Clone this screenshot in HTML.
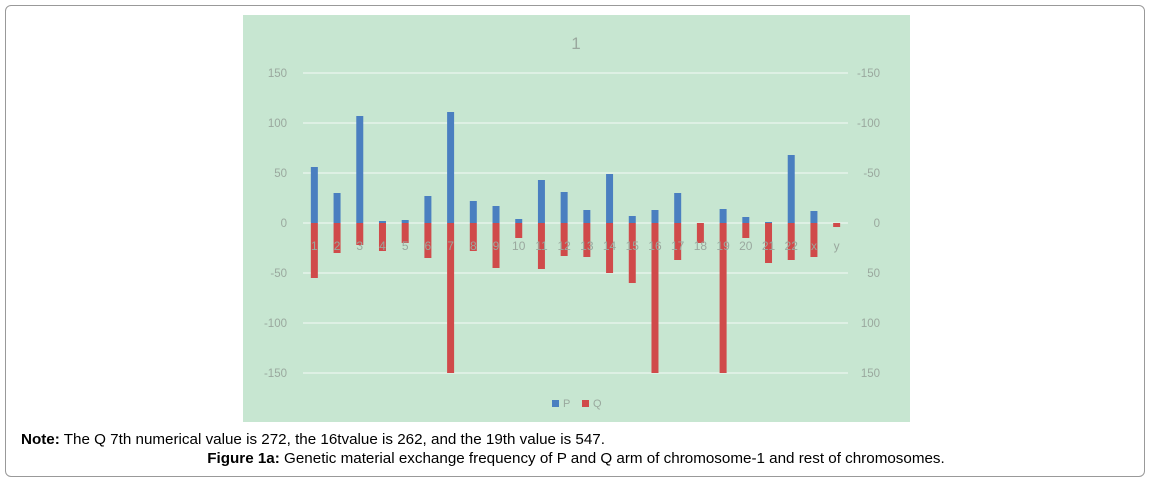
<!DOCTYPE html>
<html><head><meta charset="utf-8"><style>
body{margin:0;width:1152px;height:483px;background:#fff;font-family:"Liberation Sans",sans-serif;position:relative;overflow:hidden}
#frame{position:absolute;left:5px;top:5px;width:1140px;height:472px;border:1px solid #999;border-radius:6px;box-sizing:border-box}
#note{position:absolute;left:21px;top:431px;font-size:15.2px;color:#000}
#cap{position:absolute;left:0;width:1152px;text-align:center;top:450px;font-size:15.2px;color:#000;padding-left:0px;box-sizing:border-box}
</style></head><body>
<div id="frame"></div>
<svg id="chart" width="1152" height="483" style="position:absolute;left:0;top:0">
<rect x="243" y="15" width="667" height="407" fill="#c7e6d1"/>
<text x="576" y="49" text-anchor="middle" font-size="17" fill="#9aa89e">1</text>
<g id="grid"></g><g id="bars"></g><g id="labels"></g>
<rect x="552" y="400" width="7" height="7" fill="#4a7fc0"/>
<text x="563" y="407" font-size="11" fill="#9aa89e">P</text>
<rect x="582" y="400" width="7" height="7" fill="#d04a4a"/>
<text x="593" y="407" font-size="11" fill="#9aa89e">Q</text>
</svg>
<div id="note"><b>Note:</b> The Q 7th numerical value is 272, the 16tvalue is 262, and the 19th value is 547.</div>
<div id="cap"><b>Figure 1a:</b> Genetic material exchange frequency of P and Q arm of chromosome-1 and rest of chromosomes.</div>
<script>
const categories=["1","2","3","4","5","6","7","8","9","10","11","12","13","14","15","16","17","18","19","20","21","22","x","y"];
const pValues=[56,30,107,2,3,27,111,22,17,4,43,31,13,49,7,13,30,0,14,6,1,68,12,0];
const qValues=[-55,-30,-22,-28,-20,-35,-150,-28,-45,-15,-46,-33,-34,-50,-60,-150,-37,-20,-150,-15,-40,-37,-34,-4];
const leftTicks=["150","100","50","0","-50","-100","-150"];
const rightTicks=["-150","-100","-50","0","50","100","150"];
const tickValues=[150,100,50,0,-50,-100,-150];
const NS="http://www.w3.org/2000/svg";
const y=v=>223-v*1.0;
const x0=303,x1=848,step=(x1-x0)/categories.length;
const cx=i=>x0+step*(i+0.5);
function mk(t,a,p){const e=document.createElementNS(NS,t);for(const k in a)e.setAttribute(k,a[k]);document.getElementById(p).appendChild(e);return e;}
tickValues.forEach((v,i)=>{
 const l=mk('line',{x1:x0,x2:x1,y1:y(v),y2:y(v),stroke:'#e6f3ea','stroke-width':1.5},'grid');
 
 
 const t=mk('text',{x:287,y:y(v)+4,'text-anchor':'end','font-size':11.5,fill:'#9aa89e'},'labels');t.textContent=leftTicks[i];
 
 
 const r=mk('text',{x:880,y:y(v)+4,'text-anchor':'end','font-size':11.5,fill:'#9aa89e'},'labels');r.textContent=rightTicks[i];
 
 
});
categories.forEach((c,i)=>{
 const p=pValues[i],q=qValues[i];
 const b=mk('rect',{x:cx(i)-3.5,y:y(Math.max(p,0)),width:7,height:Math.abs(p),fill:'#4a7fc0'},'bars');
 
 
 const b2=mk('rect',{x:cx(i)-3.5,y:y(0),width:7,height:Math.abs(Math.min(q,0)),fill:'#d04a4a'},'bars');
 
 
 const t=mk('text',{x:cx(i),y:250,'text-anchor':'middle','font-size':12,fill:'#9aa89e'},'labels');t.textContent=c;
 
 
});
</script>
</body></html>
